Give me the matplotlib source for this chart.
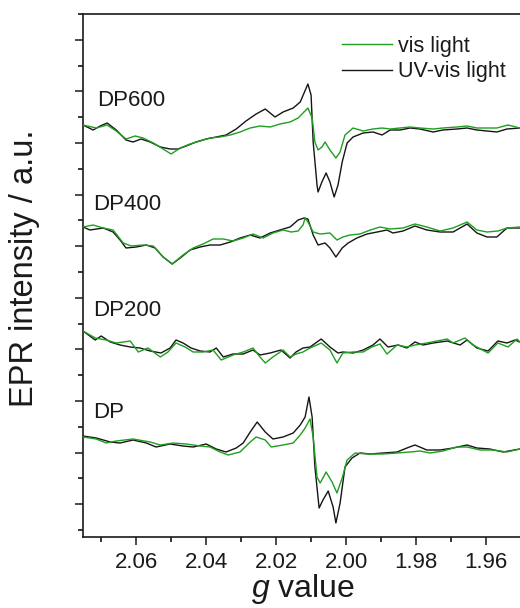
import numpy as np
import matplotlib
matplotlib.use('Agg')
import matplotlib.pyplot as plt
from matplotlib.ticker import MultipleLocator

plt.rcParams['font.family'] = 'Liberation Sans'
plt.rcParams['mathtext.fontset'] = 'custom'
plt.rcParams['mathtext.it'] = 'Liberation Sans:italic'
plt.rcParams['mathtext.rm'] = 'Liberation Sans'

# ---- data (g value, intensity in a.u., stacked) ----
# DP600
g600_uv = [2.0752, 2.0723, 2.0703, 2.0683, 2.0657, 2.0629, 2.0609, 2.0586, 2.0560, 2.0531,
           2.0503, 2.0480, 2.0457, 2.0429, 2.0400, 2.0371, 2.0343, 2.0314, 2.0286, 2.0257,
           2.0231, 2.0203, 2.0180, 2.0151, 2.0131, 2.0120, 2.0109, 2.0100, 2.0094, 2.0083,
           2.0080, 2.0069, 2.0057, 2.0046, 2.0034, 2.0023, 2.0011, 1.9997, 1.9980, 1.9951,
           1.9923, 1.9897, 1.9874, 1.9846, 1.9817, 1.9789, 1.9751, 1.9723, 1.9683, 1.9654,
           1.9626, 1.9597, 1.9569, 1.9540, 1.9503]
int600_uv = [405, 400, 404, 407, 400, 390, 388, 391, 388, 383,
             381, 381, 384, 388, 391, 393, 395, 401, 409, 416,
             421, 413, 418, 422, 428, 437, 446, 435, 388, 345,
             338, 348, 357, 348, 333, 345, 368, 387, 393, 397,
             398, 395, 400, 400, 402, 401, 398, 400, 401, 402,
             400, 399, 398, 401, 402]
g600_vis = [2.0752, 2.0714, 2.0683, 2.0657, 2.0629, 2.0603, 2.0580, 2.0551, 2.0523, 2.0500,
            2.0474, 2.0446, 2.0417, 2.0389, 2.0360, 2.0331, 2.0303, 2.0274, 2.0246, 2.0217,
            2.0189, 2.0160, 2.0137, 2.0123, 2.0109, 2.0097, 2.0089, 2.0080, 2.0069, 2.0060,
            2.0046, 2.0029, 2.0017, 2.0003, 1.9980, 1.9951, 1.9923, 1.9897, 1.9874, 1.9846,
            1.9817, 1.9789, 1.9751, 1.9723, 1.9683, 1.9654, 1.9626, 1.9597, 1.9569, 1.9537,
            1.9503]
int600_vis = [405, 402, 405, 399, 391, 394, 392, 387, 381, 376,
              382, 386, 389, 392, 393, 395, 398, 402, 404, 403,
              406, 408, 412, 417, 422, 412, 388, 380, 383, 388,
              380, 372, 378, 395, 402, 399, 401, 402, 401, 402,
              403, 402, 401, 402, 403, 404, 402, 402, 402, 405,
              402]

# DP400
g400_uv = [2.0752, 2.0732, 2.0694, 2.0666, 2.0646, 2.0629, 2.0600, 2.0571, 2.0546, 2.0523,
           2.0497, 2.0474, 2.0446, 2.0417, 2.0389, 2.0360, 2.0331, 2.0303, 2.0274, 2.0246,
           2.0217, 2.0189, 2.0160, 2.0137, 2.0120, 2.0109, 2.0094, 2.0080, 2.0060, 2.0046,
           2.0029, 2.0011, 1.9994, 1.9969, 1.9940, 1.9911, 1.9883, 1.9866, 1.9837, 1.9803,
           1.9769, 1.9731, 1.9694, 1.9654, 1.9626, 1.9597, 1.9569, 1.9540, 1.9503]
int400_uv = [303, 300, 302, 298, 290, 282, 283, 285, 282, 273,
             266, 272, 280, 283, 285, 285, 288, 292, 295, 292,
             297, 300, 303, 310, 312, 311, 295, 285, 287, 282,
             273, 282, 287, 292, 296, 298, 300, 297, 299, 304,
             300, 298, 298, 306, 297, 293, 293, 302, 302]
g400_vis = [2.0752, 2.0723, 2.0694, 2.0666, 2.0637, 2.0614, 2.0580, 2.0551, 2.0523, 2.0497,
            2.0466, 2.0437, 2.0409, 2.0380, 2.0351, 2.0323, 2.0294, 2.0266, 2.0237, 2.0209,
            2.0180, 2.0157, 2.0137, 2.0123, 2.0117, 2.0109, 2.0094, 2.0074, 2.0046, 2.0026,
            2.0009, 1.9989, 1.9960, 1.9931, 1.9903, 1.9874, 1.9837, 1.9803, 1.9769, 1.9731,
            1.9694, 1.9654, 1.9626, 1.9597, 1.9566, 1.9540, 1.9503]
int400_vis = [303, 305, 302, 300, 287, 284, 285, 284, 273, 266,
              275, 282, 286, 291, 291, 289, 292, 296, 292, 297,
              300, 298, 299, 305, 312, 308, 298, 296, 297, 290,
              293, 295, 296, 300, 303, 301, 302, 306, 303, 299,
              302, 308, 300, 298, 299, 302, 303]

# DP200
g200_uv = [2.0752, 2.0717, 2.0700, 2.0674, 2.0646, 2.0617, 2.0589, 2.0560, 2.0529, 2.0503,
           2.0486, 2.0466, 2.0443, 2.0417, 2.0389, 2.0371, 2.0351, 2.0323, 2.0294, 2.0266,
           2.0246, 2.0217, 2.0186, 2.0160, 2.0143, 2.0123, 2.0103, 2.0071, 2.0046, 2.0023,
           2.0009, 1.9980, 1.9951, 1.9923, 1.9903, 1.9880, 1.9851, 1.9826, 1.9803, 1.9780,
           1.9751, 1.9711, 1.9674, 1.9654, 1.9626, 1.9594, 1.9566, 1.9540, 1.9517, 1.9503]
int200_uv = [199, 190, 194, 188, 185, 183, 182, 179, 177, 182,
             190, 187, 182, 179, 178, 182, 173, 176, 176, 180,
             175, 177, 180, 172, 178, 182, 183, 191, 183, 177,
             178, 177, 180, 185, 191, 183, 185, 182, 188, 185,
             187, 189, 185, 190, 182, 179, 189, 187, 190, 188]
g200_vis = [2.0752, 2.0717, 2.0686, 2.0657, 2.0617, 2.0594, 2.0566, 2.0531, 2.0509, 2.0486,
            2.0460, 2.0437, 2.0409, 2.0380, 2.0357, 2.0323, 2.0294, 2.0266, 2.0246, 2.0231,
            2.0209, 2.0180, 2.0160, 2.0143, 2.0123, 2.0103, 2.0071, 2.0046, 2.0026, 2.0009,
            1.9980, 1.9951, 1.9926, 1.9903, 1.9883, 1.9854, 1.9826, 1.9803, 1.9769, 1.9711,
            1.9694, 1.9660, 1.9637, 1.9594, 1.9566, 1.9537, 1.9511, 1.9503]
int200_vis = [199, 192, 190, 187, 189, 178, 182, 173, 178, 187,
              183, 178, 178, 180, 170, 175, 178, 182, 173, 167,
              173, 180, 173, 176, 178, 182, 187, 180, 167, 177,
              178, 178, 183, 186, 176, 185, 183, 185, 187, 191,
              187, 192, 185, 177, 187, 183, 191, 188]

# DP
gdp_uv = [2.0752, 2.0714, 2.0674, 2.0646, 2.0609, 2.0571, 2.0543, 2.0503, 2.0466, 2.0437,
          2.0400, 2.0371, 2.0343, 2.0314, 2.0294, 2.0274, 2.0254, 2.0231, 2.0209, 2.0180,
          2.0151, 2.0131, 2.0117, 2.0106, 2.0097, 2.0089, 2.0077, 2.0066, 2.0051, 2.0037,
          2.0029, 2.0017, 2.0003, 1.9983, 1.9960, 1.9931, 1.9894, 1.9854, 1.9826, 1.9803,
          1.9769, 1.9731, 1.9694, 1.9654, 1.9626, 1.9589, 1.9551, 1.9503]
intdp_uv = [94, 92, 88, 87, 90, 87, 83, 86, 84, 83,
            86, 81, 78, 82, 87, 98, 108, 98, 91, 93,
            97, 105, 113, 133, 113, 63, 22, 30, 39, 23,
            7, 27, 63, 72, 77, 76, 77, 78, 82, 85,
            80, 80, 82, 85, 82, 81, 78, 81]
gdp_vis = [2.0752, 2.0714, 2.0686, 2.0657, 2.0609, 2.0560, 2.0531, 2.0494, 2.0457, 2.0417,
           2.0389, 2.0360, 2.0337, 2.0303, 2.0274, 2.0257, 2.0231, 2.0214, 2.0180, 2.0151,
           2.0131, 2.0117, 2.0103, 2.0094, 2.0083, 2.0074, 2.0057, 2.0040, 2.0026, 2.0011,
           1.9997, 1.9974, 1.9940, 1.9894, 1.9854, 1.9817, 1.9789, 1.9760, 1.9723, 1.9683,
           1.9654, 1.9617, 1.9580, 1.9540, 1.9503]
intdp_vis = [93, 91, 87, 89, 91, 88, 85, 87, 86, 84,
             83, 78, 75, 78, 88, 93, 90, 83, 85, 87,
             95, 102, 111, 93, 53, 47, 58, 48, 37, 52,
             70, 77, 76, 76, 77, 78, 79, 77, 79, 83,
             83, 80, 80, 78, 81]

sample_names = ['DP600', 'DP400', 'DP200', 'DP']
name_g = [2.0711, 2.0723, 2.0723, 2.0723]
name_int = [430, 326, 219, 117]

green = '#1f9e1f'
black = '#151515'

fig = plt.figure(figsize=(5.2, 6.08), dpi=100)
ax = fig.add_axes([83/520, 1-537/608, 439/520, 523/608])

traces = [(g600_vis, int600_vis, g600_uv, int600_uv),
          (g400_vis, int400_vis, g400_uv, int400_uv),
          (g200_vis, int200_vis, g200_uv, int200_uv),
          (gdp_vis, intdp_vis, gdp_uv, intdp_uv)]
for k, (gv, iv, gu, iu) in enumerate(traces):
    ax.plot(gv, iv, color=green, lw=1.0, label='vis light' if k == 0 else None, zorder=3)
    ax.plot(gu, iu, color=black, lw=1.0, label='UV-vis light' if k == 0 else None, zorder=2)

for n, gx, yy in zip(sample_names, name_g, name_int):
    ax.text(gx, yy, n, fontsize=16, color='#1a1a1a', ha='left', va='center')

ax.set_xlim(2.0752, 1.9497)
ax.set_ylim(-7, 516)
ax.xaxis.set_major_locator(MultipleLocator(0.02))
ax.xaxis.set_minor_locator(MultipleLocator(0.01))
ax.yaxis.set_major_locator(MultipleLocator(51.6, offset=25.8))
ax.yaxis.set_minor_locator(MultipleLocator(25.8))
ax.tick_params(axis='both', which='major', direction='out', length=6, width=1.1,
               labelsize=16, colors='#1a1a1a', pad=5)
ax.tick_params(axis='both', which='minor', direction='out', length=3.5, width=1.1)
ax.tick_params(axis='y', which='both', labelleft=False)
ax.xaxis.set_major_formatter(plt.FuncFormatter(lambda v, p: '%.2f' % v))

for s in ['left', 'bottom', 'top']:
    ax.spines[s].set_linewidth(1.2)
    ax.spines[s].set_color('#1a1a1a')
ax.spines['right'].set_visible(False)

ax.set_xlabel(r'$g$ value', fontsize=23, color='#1a1a1a', labelpad=-1)
fig.text(24.5/520, 1-268/608, 'EPR intensity / a.u.', rotation=90, fontsize=23.5,
         color='#1a1a1a', ha='center', va='center')

leg = ax.legend(loc='upper left', bbox_to_anchor=(342/520, 1-36/608),
                bbox_transform=fig.transFigure, frameon=False, fontsize=15.5,
                handlelength=2.3, handletextpad=0.3, labelspacing=0.2,
                borderpad=0, borderaxespad=0)
for t in leg.get_texts():
    t.set_color('#1a1a1a')

fig.savefig('out.png', dpi=100)
